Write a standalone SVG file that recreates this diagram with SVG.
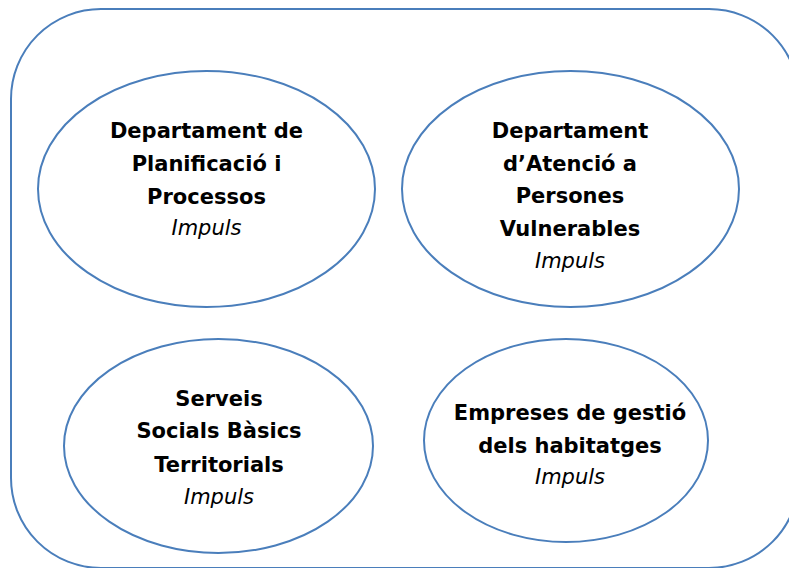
<svg xmlns="http://www.w3.org/2000/svg" width="789" height="568" viewBox="0 0 789 568">
<style>
.shape{fill:#ffffff;stroke:#4a7ebb;stroke-width:2}
.b{font-family:"DejaVu Sans",Verdana,sans-serif;font-weight:bold;font-size:21px;fill:#000;text-anchor:middle}
.i{font-family:"DejaVu Sans",Verdana,sans-serif;font-style:italic;font-size:21px;fill:#000;text-anchor:middle}
</style>
<rect width="789" height="568" fill="#ffffff"/>
<g id="container">
<rect class="shape" x="11" y="9" width="788" height="559" rx="90" ry="90"/>
</g>
<g id="connectors"></g>
<g id="node-planificacio">
<ellipse class="shape" cx="206.5" cy="189" rx="168.5" ry="118"/>
<text class="b" x="206.5" y="138">Departament de</text>
<text class="b" x="206.5" y="171">Planificació i</text>
<text class="b" x="206.5" y="204">Processos</text>
<text class="i" x="206.5" y="235">Impuls</text>
</g>
<g id="node-atencio">
<ellipse class="shape" cx="570.5" cy="189" rx="168.5" ry="118"/>
<text class="b" x="570" y="138">Departament</text>
<text class="b" x="570" y="171">d’Atenció a</text>
<text class="b" x="570" y="203">Persones</text>
<text class="b" x="570" y="236">Vulnerables</text>
<text class="i" x="570" y="268">Impuls</text>
</g>
<g id="node-serveis">
<ellipse class="shape" cx="218.5" cy="446" rx="154.5" ry="107"/>
<text class="b" x="219" y="406">Serveis</text>
<text class="b" x="219" y="438">Socials Bàsics</text>
<text class="b" x="219" y="472">Territorials</text>
<text class="i" x="219" y="504">Impuls</text>
</g>
<g id="node-empreses">
<ellipse class="shape" cx="566" cy="440.5" rx="142" ry="101.5"/>
<text class="b" x="570" y="420">Empreses de gestió</text>
<text class="b" x="570" y="453">dels habitatges</text>
<text class="i" x="570" y="484">Impuls</text>
</g>
</svg>
